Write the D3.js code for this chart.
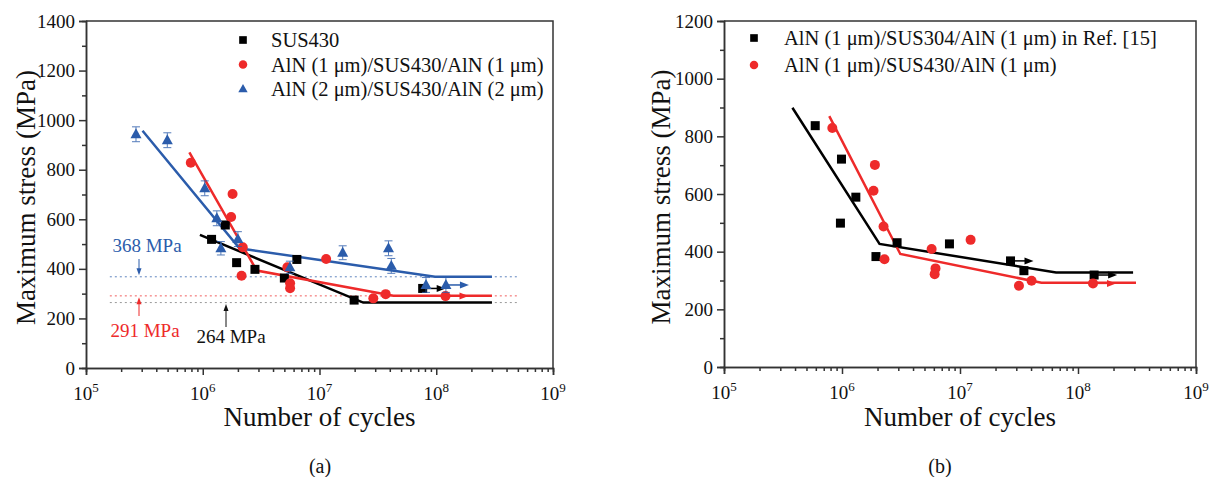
<!DOCTYPE html>
<html>
<head>
<meta charset="utf-8">
<script src="https://cdn.jsdelivr.net/npm/d3@7"></script>
<style>
body { margin: 0; background: #fff; }
svg text { font-family: "Liberation Serif", "Times New Roman", serif; fill: #111; }
</style>
</head>
<body>
<svg id="chart" width="1215" height="477"></svg>
<script>
// ---- panel (a) data ----
var aSusN = [1.19e6, 1.56e6, 1.95e6, 2.8e6, 5.0e6, 6.4e6, 1.98e7, 7.65e7];
var aSusS = [519, 577, 425, 398, 363, 438, 274, 321];
var aSusRun = [0, 0, 0, 0, 0, 0, 0, 1];

var aAln1N = [7.9e5, 1.8e6, 1.75e6, 2.2e6, 2.15e6, 5.3e6, 5.6e6, 5.6e6, 1.14e7, 2.89e7, 3.69e7, 1.2e8];
var aAln1S = [828, 702, 609, 487, 372, 406, 342, 322, 440, 281, 298, 290];
var aAln1Run = [0, 0, 0, 0, 0, 0, 0, 0, 0, 0, 0, 1];

var aAln2N = [2.68e5, 4.97e5, 1.04e6, 1.32e6, 1.43e6, 2.0e6, 5.58e6, 1.58e7, 3.9e7, 4.12e7, 8.17e7, 1.21e8];
var aAln2S = [943, 919, 725, 604, 483, 520, 406, 465, 483, 412, 335, 335];
var aAln2Err = [30, 30, 30, 30, 27, 30, 25, 28, 30, 30, 30, 30];
var aAln2Run = [0, 0, 0, 0, 0, 0, 0, 0, 0, 0, 0, 1];

// fitted S-N lines (a)
var aSusFitN = [9.46e5, 2.37e7, 3e8];
var aSusFitS = [537, 264, 264];
var aAln1FitN = [7.68e5, 2.9e6, 4.29e7, 3e8];
var aAln1FitS = [870, 393, 292, 291];
var aAln2FitN = [3.05e5, 2.06e6, 9.76e7, 3e8];
var aAln2FitS = [957, 483, 368, 368];

// fatigue limits (a)
var aLimits = [368, 291, 264];
var aLimitLabels = ["368 MPa", "291 MPa", "264 MPa"];

// ---- panel (b) data ----
var bRefN = [5.93e5, 9.9e5, 9.7e5, 1.31e6, 1.94e6, 2.93e6, 8.14e6, 2.68e7, 3.48e7, 1.37e8];
var bRefS = [837, 721, 499, 589, 383, 431, 427, 368, 334, 319];
var bRefRun = [0, 0, 0, 0, 0, 0, 0, 1, 0, 1];

var bAln1N = [8.28e5, 1.9e6, 1.85e6, 2.25e6, 2.29e6, 5.75e6, 6.2e6, 6.1e6, 1.23e7, 3.16e7, 4.04e7, 1.34e8];
var bAln1S = [829, 701, 611, 487, 374, 409, 342, 322, 441, 282, 299, 290];
var bAln1Run = [0, 0, 0, 0, 0, 0, 0, 0, 0, 0, 0, 1];

var bRefFitN = [3.8e5, 2.08e6, 6.52e7, 2.93e8];
var bRefFitS = [899, 427, 328, 328];
var bAln1FitN = [7.8e5, 3.12e6, 4.9e7, 3.1e8];
var bAln1FitS = [870, 392, 292, 292];

var legendA = ["SUS430", "AlN (1 \u03bcm)/SUS430/AlN (1 \u03bcm)", "AlN (2 \u03bcm)/SUS430/AlN (2 \u03bcm)"];
var legendB = ["AlN (1 \u03bcm)/SUS304/AlN (1 \u03bcm) in Ref. [15]", "AlN (1 \u03bcm)/SUS430/AlN (1 \u03bcm)"];

var colors = { black: "#000000", red: "#ee2a2a", blue: "#2b5cab" };
var SERIF = "'Liberation Serif', 'Times New Roman', serif";

var svg = d3.select("#chart");

function zip(a, b) {
    var out = [];
    for (var i = 0; i < a.length; i++) out.push([a[i], b[i]]);
    return out;
}

function drawMarker(g, shape, cx, cy, color, size) {
    if (shape == "square") {
        g.append("rect").attr("x", cx - size / 2).attr("y", cy - size / 2)
            .attr("width", size).attr("height", size).attr("fill", color);
    } else if (shape == "circle") {
        g.append("circle").attr("cx", cx).attr("cy", cy).attr("r", size / 2).attr("fill", color);
    } else {
        var h = size * 0.9;
        g.append("path")
            .attr("d", "M" + cx + "," + (cy - h * 0.6) + "L" + (cx + size / 2) + "," + (cy + h * 0.4) +
                "L" + (cx - size / 2) + "," + (cy + h * 0.4) + "Z")
            .attr("fill", color);
    }
}

function drawPanel(p) {
    var x = d3.scaleLog().domain([1e5, 1e9]).range([p.left, p.right]);
    var y = d3.scaleLinear().domain([0, p.yMax]).range([p.bottom, p.top]);
    var g = svg.append("g");

    // frame top + right
    g.append("path")
        .attr("d", "M" + p.left + "," + p.top + "H" + p.right + "V" + p.bottom)
        .attr("fill", "none").attr("stroke", "#333").attr("stroke-width", 1.5);

    var majors = [1e5, 1e6, 1e7, 1e8, 1e9];
    var minors = [];
    for (var d = 5; d < 9; d++) {
        for (var k = 2; k <= 9; k++) minors.push(k * Math.pow(10, d));
    }

    var xMinor = g.append("g").attr("transform", "translate(0," + p.bottom + ")")
        .call(d3.axisBottom(x).tickValues(minors).tickSize(4).tickFormat(""));
    var xMajor = g.append("g").attr("transform", "translate(0," + p.bottom + ")")
        .call(d3.axisBottom(x).tickValues(majors).tickSize(7).tickFormat(""));

    var yTicks = d3.range(0, p.yMax + 1, 200);
    var yMinorTicks = d3.range(100, p.yMax, 200);
    var yMinor = g.append("g").attr("transform", "translate(" + p.left + ",0)")
        .call(d3.axisLeft(y).tickValues(yMinorTicks).tickSize(4).tickFormat(""));
    var yMajor = g.append("g").attr("transform", "translate(" + p.left + ",0)")
        .call(d3.axisLeft(y).tickValues(yTicks).tickSize(7).tickPadding(4).tickFormat(d3.format("d")));

    [xMinor, xMajor, yMinor, yMajor].forEach(function(ax) {
        ax.attr("font-family", null);
        ax.selectAll("path,line").attr("stroke", "#333").attr("stroke-width", 1.5);
    });
    yMajor.selectAll("text")
        .style("font-family", SERIF).style("font-size", "19px").style("fill", "#111");

    // x tick labels 10^n
    var lab = g.selectAll(".xlab").data(majors).enter().append("text")
        .attr("x", function(v) { return x(v); })
        .attr("y", p.bottom + 32)
        .attr("text-anchor", "middle")
        .style("font-family", SERIF)
        .style("font-size", "19px");
    lab.append("tspan").text("10");
    lab.append("tspan").style("font-size", "13px").attr("dy", -8)
        .text(function(v) { return Math.round(Math.log10(v)); });

    // axis titles
    g.append("text")
        .attr("transform", "translate(" + p.titleX + "," + ((p.top + p.bottom) / 2 + 3) + ") rotate(-90)")
        .attr("text-anchor", "middle").style("font-family", SERIF).style("font-size", "27px")
        .text("Maximum stress (MPa)");
    g.append("text")
        .attr("x", (p.left + p.right) / 2).attr("y", 426)
        .attr("text-anchor", "middle").style("font-family", SERIF).style("font-size", "27px")
        .text("Number of cycles");
    g.append("text")
        .attr("x", p.tagX).attr("y", 473)
        .attr("text-anchor", "middle").style("font-family", SERIF).style("font-size", "20px")
        .text(p.tag);

    var line = d3.line()
        .x(function(d) { return x(d[0]); })
        .y(function(d) { return y(d[1]); });

    var plot = g.append("g");

    // dotted fatigue limits
    (p.limits || []).forEach(function(l) {
        plot.append("line")
            .attr("x1", x(1.6e5)).attr("x2", x(5e8))
            .attr("y1", y(l.v)).attr("y2", y(l.v))
            .attr("stroke", l.color).attr("stroke-width", 1)
            .attr("stroke-dasharray", "2,3").attr("opacity", 0.75);
    });

    // fit lines
    p.series.forEach(function(s) {
        plot.append("path")
            .datum(zip(s.fitN, s.fitS))
            .attr("d", line)
            .attr("fill", "none").attr("stroke", s.color).attr("stroke-width", 2.5);
    });

    // points
    p.series.forEach(function(s) {
        var pts = zip(s.n, s.s);
        pts.forEach(function(pt, i) {
            var cx = x(pt[0]), cy = y(pt[1]);
            if (s.err) {
                var e = s.err[i];
                var eg = plot.append("g").attr("stroke", s.color).attr("stroke-width", 1).attr("opacity", 0.8);
                eg.append("line").attr("x1", cx).attr("x2", cx).attr("y1", y(pt[1] + e)).attr("y2", y(pt[1] - e));
                eg.append("line").attr("x1", cx - 4).attr("x2", cx + 4).attr("y1", y(pt[1] + e)).attr("y2", y(pt[1] + e));
                eg.append("line").attr("x1", cx - 4).attr("x2", cx + 4).attr("y1", y(pt[1] - e)).attr("y2", y(pt[1] - e));
            }
            if (s.run && s.run[i]) {
                plot.append("line").attr("x1", cx).attr("x2", cx + 16)
                    .attr("y1", cy).attr("y2", cy)
                    .attr("stroke", s.color).attr("stroke-width", 1.5);
                plot.append("path")
                    .attr("d", "M" + (cx + 23) + "," + cy + "L" + (cx + 14) + "," + (cy - 3.5) + "L" + (cx + 14) + "," + (cy + 3.5) + "Z")
                    .attr("fill", s.color);
            }
            drawMarker(plot, s.shape, cx, cy, s.color, s.size);
        });
    });

    // legend
    p.series.forEach(function(s, i) {
        var ly = p.legendY + i * p.legendGap;
        drawMarker(g, s.shape, p.legendX, ly, s.color, s.size * 0.85);
        g.append("text")
            .attr("x", p.legendX + p.legendTextGap).attr("y", ly + 7)
            .style("font-family", SERIF).style("font-size", "20.5px")
            .text(s.label);
    });

    return { x: x, y: y, g: g };
}

var pa = drawPanel({
    left: 86, right: 553, top: 21, bottom: 368, yMax: 1400,
    titleX: 35, tagX: 320, tag: "(a)",
    legendX: 243, legendY: 40, legendGap: 24.5, legendTextGap: 28,
    limits: [
        { v: aLimits[0], color: colors.blue },
        { v: aLimits[1], color: colors.red },
        { v: aLimits[2], color: "#777" }
    ],
    series: [
        { label: legendA[0], n: aSusN, s: aSusS, run: aSusRun, fitN: aSusFitN, fitS: aSusFitS,
          color: colors.black, shape: "square", size: 9 },
        { label: legendA[1], n: aAln1N, s: aAln1S, run: aAln1Run, fitN: aAln1FitN, fitS: aAln1FitS,
          color: colors.red, shape: "circle", size: 10 },
        { label: legendA[2], n: aAln2N, s: aAln2S, err: aAln2Err, run: aAln2Run, fitN: aAln2FitN, fitS: aAln2FitS,
          color: colors.blue, shape: "triangle", size: 11 }
    ]
});

// fatigue limit call-outs (a)
var ann = [
    { text: aLimitLabels[0], v: aLimits[0], color: colors.blue, tx: 147, ty: 252, ax: 139, from: 259, dir: 1 },
    { text: aLimitLabels[1], v: aLimits[1], color: colors.red, tx: 145, ty: 337, ax: 139, from: 316, dir: -1 },
    { text: aLimitLabels[2], v: aLimits[2], color: "#111", tx: 231, ty: 343, ax: 226, from: 327, dir: -1 }
];
ann.forEach(function(a) {
    var tip = pa.y(a.v) - a.dir * 1.5;
    pa.g.append("text").attr("x", a.tx).attr("y", a.ty)
        .attr("text-anchor", "middle")
        .style("font-family", SERIF).style("font-size", "19px")
        .style("fill", a.color).text(a.text);
    pa.g.append("line").attr("x1", a.ax).attr("x2", a.ax)
        .attr("y1", a.from).attr("y2", tip - a.dir * 5)
        .attr("stroke", a.color).attr("stroke-width", 1);
    pa.g.append("path")
        .attr("d", "M" + a.ax + "," + tip + "L" + (a.ax - 2.5) + "," + (tip - a.dir * 7) + "L" + (a.ax + 2.5) + "," + (tip - a.dir * 7) + "Z")
        .attr("fill", a.color);
});

drawPanel({
    left: 724, right: 1196, top: 21, bottom: 367, yMax: 1200,
    titleX: 670, tagX: 940, tag: "(b)",
    legendX: 754, legendY: 38, legendGap: 27, legendTextGap: 30,
    series: [
        { label: legendB[0], n: bRefN, s: bRefS, run: bRefRun, fitN: bRefFitN, fitS: bRefFitS,
          color: colors.black, shape: "square", size: 9 },
        { label: legendB[1], n: bAln1N, s: bAln1S, run: bAln1Run, fitN: bAln1FitN, fitS: bAln1FitS,
          color: colors.red, shape: "circle", size: 10 }
    ]
});
</script>
</body>
</html>
